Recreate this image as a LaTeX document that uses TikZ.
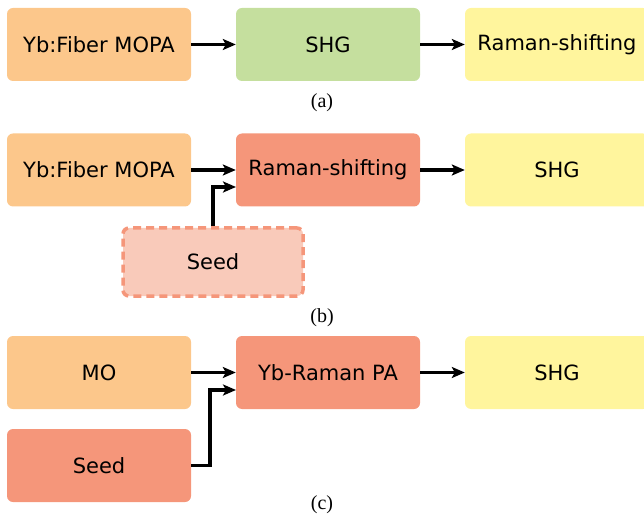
\documentclass[tikz,border=0pt]{standalone}
\usepackage{fontspec}
\setmainfont{Liberation Serif}
\newfontfamily\boxfont{DejaVu Sans}
\usetikzlibrary{arrows.meta}
\definecolor{peach}{RGB}{252,199,139}
\definecolor{leaf}{RGB}{197,223,158}
\definecolor{lemon}{RGB}{255,245,157}
\definecolor{salmon}{RGB}{245,150,122}
\definecolor{blush}{RGB}{249,202,186}
\tikzset{
  x=1pt, y=-1pt,
  block/.style={rounded corners=6pt, minimum width=184pt, minimum height=73pt,
    inner sep=0pt, font=\boxfont\fontsize{21}{24}\selectfont, text=black},
  flow/.style={line width=3.5pt, -{Stealth[length=13pt,width=11pt,inset=3pt]}},
  tag/.style={font=\fontsize{20}{24}\selectfont}
}
\begin{document}
\begin{tikzpicture}
\useasboundingbox (0,0) rectangle (644,518);
% (a)
\node[block, fill=peach] (a1) at (99,44.5) {Yb:Fiber MOPA};
\node[block, fill=leaf] (a2) at (328,44.5) {SHG};
\node[block, fill=lemon] (a3) at (557,44.5) {Raman-shifting};
\draw[flow] (a1) -- (a2);
\draw[flow] (a2) -- (a3);
\node[tag] (la) at (322,103) {(a)};
% (b)
\node[block, fill=peach] (b1) at (99,170) {Yb:Fiber MOPA};
\node[block, fill=salmon] (b2) at (328,170) {Raman-shifting};
\node[block, fill=lemon] (b3) at (557,170) {SHG};
\node[block, fill=blush, draw=salmon, line width=3.5pt, dash pattern=on 8pt off 5pt,
      minimum width=180pt, minimum height=68pt] (bs) at (213,262) {Seed};
\draw[flow] (b1) -- (b2);
\draw[flow] (b2) -- (b3);
\coordinate (bin) at (236,187);
\draw[flow] (bs.north -| 213,0) |- (bin);
\node[tag] (lb) at (322,318) {(b)};
% (c)
\node[block, fill=peach] (c1) at (99,372.5) {MO};
\node[block, fill=salmon] (c2) at (328,372.5) {Yb-Raman PA};
\node[block, fill=lemon] (c3) at (557,372.5) {SHG};
\node[block, fill=salmon] (cs) at (99,465.5) {Seed};
\draw[flow] (c1) -- (c2);
\draw[flow] (c2) -- (c3);
\coordinate (cin) at (236,390);
\draw[flow] (cs.east) -- (210,465.5) |- (cin);
\node[tag] (lc) at (322,505) {(c)};
\end{tikzpicture}
\end{document}
